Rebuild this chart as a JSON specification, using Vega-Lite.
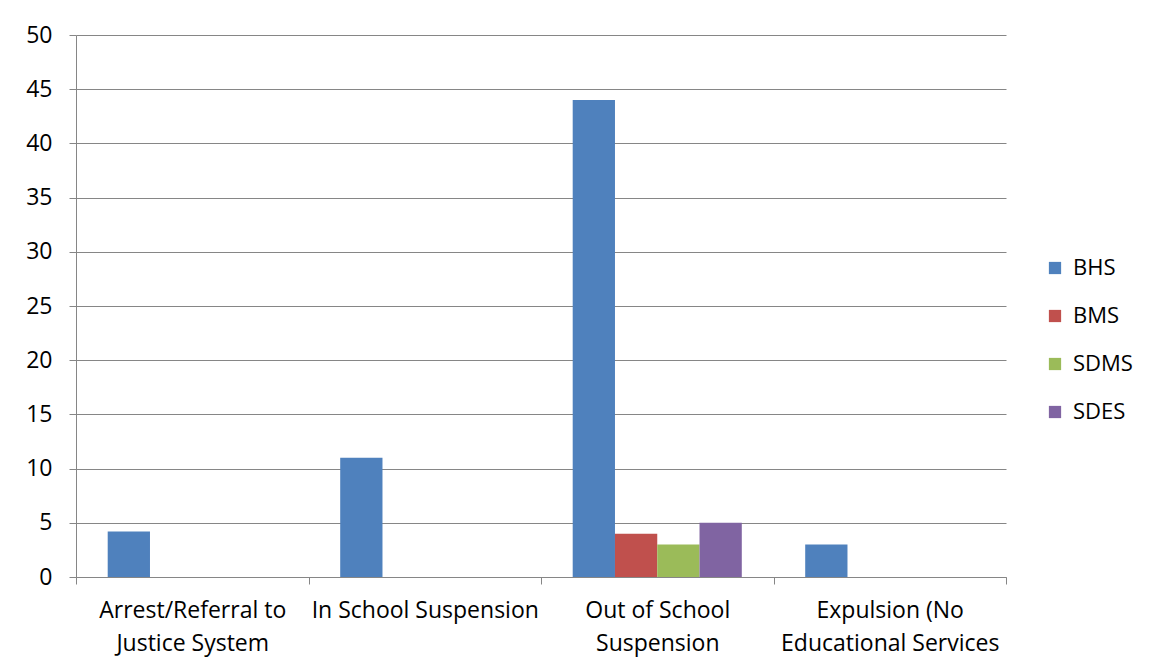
{
  "$schema": "https://vega.github.io/schema/vega-lite/v6.json",
  "autosize": "none",
  "width": 930,
  "height": 542,
  "padding": {"left": 76, "top": 35, "right": 144, "bottom": 93},
  "background": "white",
  "data": {
    "values": [
      {"category": "Arrest/Referral to Justice System", "school": "BHS", "value": 4.2},
      {"category": "Arrest/Referral to Justice System", "school": "BMS", "value": 0},
      {"category": "Arrest/Referral to Justice System", "school": "SDMS", "value": 0},
      {"category": "Arrest/Referral to Justice System", "school": "SDES", "value": 0},
      {"category": "In School Suspension", "school": "BHS", "value": 11},
      {"category": "In School Suspension", "school": "BMS", "value": 0},
      {"category": "In School Suspension", "school": "SDMS", "value": 0},
      {"category": "In School Suspension", "school": "SDES", "value": 0},
      {"category": "Out of School Suspension", "school": "BHS", "value": 44},
      {"category": "Out of School Suspension", "school": "BMS", "value": 4},
      {"category": "Out of School Suspension", "school": "SDMS", "value": 3},
      {"category": "Out of School Suspension", "school": "SDES", "value": 5},
      {"category": "Expulsion (No Educational Services", "school": "BHS", "value": 3},
      {"category": "Expulsion (No Educational Services", "school": "BMS", "value": 0},
      {"category": "Expulsion (No Educational Services", "school": "SDMS", "value": 0},
      {"category": "Expulsion (No Educational Services", "school": "SDES", "value": 0}
    ]
  },
  "mark": {"type": "bar"},
  "encoding": {
    "x": {
      "field": "category",
      "type": "nominal",
      "sort": null,
      "title": null,
      "scale": {"paddingInner": 0, "paddingOuter": 0},
      "axis": {
        "tickBand": "extent",
        "tickSize": 7,
        "tickColor": "#868686",
        "domainColor": "#868686",
        "labelAngle": 0,
        "labelPadding": 15,
        "labelLineHeight": 33,
        "labelFontSize": 23,
        "labelFont": "Open Sans",
        "labelColor": "#000000",
        "labelLimit": 0,
        "grid": false,
        "labelExpr": "datum.value == 'Arrest/Referral to Justice System' ? ['Arrest/Referral to', 'Justice System'] : datum.value == 'Out of School Suspension' ? ['Out of School', 'Suspension'] : datum.value == 'Expulsion (No Educational Services' ? ['Expulsion (No', 'Educational Services'] : datum.value"
      }
    },
    "xOffset": {
      "field": "school",
      "type": "nominal",
      "sort": ["BHS", "BMS", "SDMS", "SDES"],
      "scale": {"paddingInner": 0, "paddingOuter": 0.75}
    },
    "y": {
      "field": "value",
      "type": "quantitative",
      "title": null,
      "scale": {"domain": [0, 50], "nice": false},
      "axis": {
        "values": [0, 5, 10, 15, 20, 25, 30, 35, 40, 45, 50],
        "tickSize": 7,
        "tickColor": "#868686",
        "domainColor": "#868686",
        "gridColor": "#868686",
        "gridOpacity": 1,
        "labelPadding": 17,
        "labelFontSize": 23,
        "labelFont": "Open Sans",
        "labelColor": "#000000"
      }
    },
    "color": {
      "field": "school",
      "type": "nominal",
      "sort": ["BHS", "BMS", "SDMS", "SDES"],
      "title": null,
      "scale": {
        "domain": ["BHS", "BMS", "SDMS", "SDES"],
        "range": ["#4F81BD", "#C0504D", "#9BBB59", "#8064A2"]
      },
      "legend": {
        "orient": "none",
        "legendX": 968,
        "legendY": 222,
        "symbolType": "square",
        "symbolSize": 150,
        "symbolStrokeWidth": 0,
        "labelFontSize": 22,
        "labelFont": "Open Sans",
        "labelColor": "#000000",
        "rowPadding": 26,
        "labelOffset": 7
      }
    }
  },
  "config": {
    "view": {"stroke": null}
  }
}
